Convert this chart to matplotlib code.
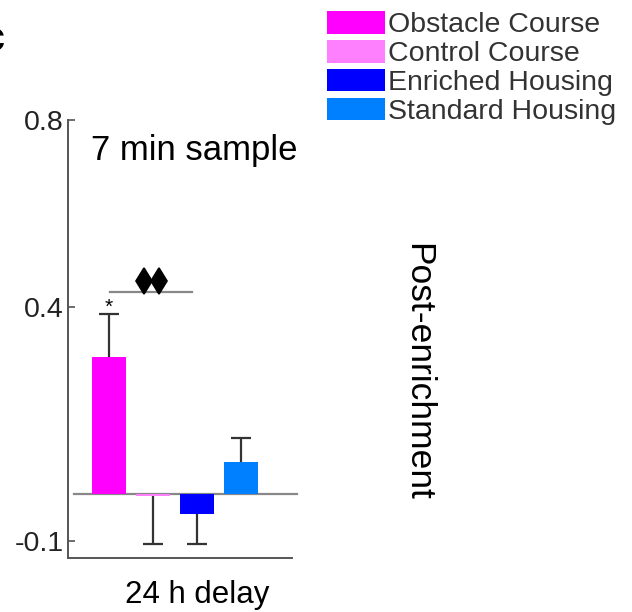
import numpy as np
import matplotlib
matplotlib.use("Agg")
import matplotlib.pyplot as plt
from matplotlib.patches import Patch

plt.rcParams["font.family"] = ["Liberation Sans", "DejaVu Sans"]

groups = ["Obstacle Course", "Control Course", "Enriched Housing", "Standard Housing"]
means = [0.294, -0.004, -0.043, 0.069]
errors = [0.090, 0.102, 0.065, 0.051]
err_sign = [1, -1, -1, 1]
colors = ["#FF00FF", "#FF80FF", "#0000FF", "#0080FF"]

yticks = [-0.1, 0.4, 0.8]
ytick_labels = ["-0.1", "0.4", "0.8"]

sig_bar_y = 0.433
sig_bar_x = [0.02, 1.88]
diamond_x = [0.80, 1.14]
diamond_y = 0.456
star_y = 0.400

x = np.arange(len(groups))

fig = plt.figure(figsize=(6.32, 6.12), dpi=100)
ax = fig.add_axes([68 / 632, 1 - 558 / 612, (292 - 68) / 632, (558 - 120) / 612])

ax.bar(x, means, width=0.78, color=colors, zorder=2)

# one-sided error bars, no cap at the bar end
ends = [m + s * e for m, e, s in zip(means, errors, err_sign)]
ax.vlines(x, means, ends, color="#333333", lw=1.6, zorder=3)
ax.plot(x, ends, ls="none", marker="_", ms=15, mew=1.6, color="#333333", zorder=3)

ax.plot([-0.8, 4.27], [0, 0], color="#888888", lw=1.6, zorder=1, clip_on=False)

ax.plot(sig_bar_x, [sig_bar_y, sig_bar_y], color="#888888", lw=1.6, clip_on=False)
ax.plot(diamond_x, [diamond_y] * 2, ls="none", marker="d", ms=13, mew=1.2,
        color="black", clip_on=False)
ax.text(0, star_y, "*", ha="center", va="center", fontsize=15)

ax.set_xlim(-0.93, 4.16)
ax.set_ylim(-0.137, 0.8)
ax.set_yticks(yticks)
ax.set_yticklabels(ytick_labels)
ax.set_xticks([])
for s in ["top", "right"]:
    ax.spines[s].set_visible(False)
for s in ["left", "bottom"]:
    ax.spines[s].set_color("#555555")
    ax.spines[s].set_linewidth(1.4)
ax.tick_params(axis="y", direction="in", length=5, width=1.2, color="#555555",
               labelsize=20.5, labelcolor="#222222", pad=3)

ax.text((194 - 68) / 224, 0.93, "7 min sample", transform=ax.transAxes,
        ha="center", va="center", fontsize=25)
fig.text(197 / 632, 1 - 603 / 612, "24 h delay", ha="center", va="baseline",
         fontsize=22.5)

fig.text(418 / 632, 1 - 372 / 612, "Post-enrichment", rotation=-90, ha="center",
         va="center", fontsize=25.5)
fig.text(-0.03, 1 - 40 / 612, "c", fontsize=30, fontweight="bold", ha="left",
         va="center")

handles = [Patch(facecolor=c, edgecolor="none") for c in colors]
fig.legend(handles, groups, loc="upper left", bbox_to_anchor=(307 / 632, 1 + 9 / 612),
           frameon=False, fontsize=20.5, handlelength=2.05, handleheight=0.85,
           handletextpad=0.1, labelspacing=0.06, borderpad=0.2,
           labelcolor="#333333")

fig.savefig("out.png", dpi=100)
